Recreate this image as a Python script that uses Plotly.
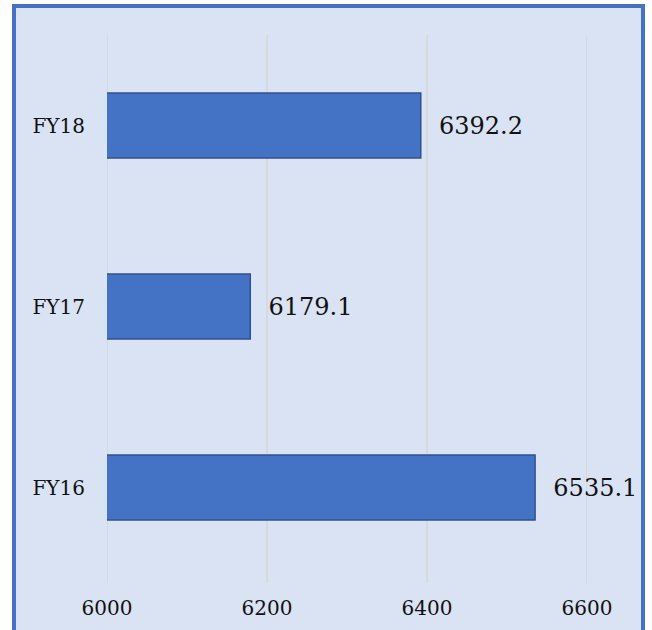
import plotly.graph_objects as go

categories = ["FY16", "FY17", "FY18"]
values = [6535.1, 6179.1, 6392.2]
x_ticks = [6000, 6200, 6400, 6600]

W, H = 652, 630
L, R, T, B = 107, 65, 35, 52
pw, ph = W - L - R, H - T - B

def px(x):
    return (x - L) / pw

def py(y):
    return (H - B - y) / ph

FONT = "DejaVu Serif"

fig = go.Figure(go.Bar(
    y=categories, x=values, orientation="h",
    marker=dict(color="#4472c4", line=dict(color="#2f528f", width=1.5)),
    text=[f"{v:.1f}" for v in values],
    texttemplate="  %{text}",
    textposition="outside",
    textfont=dict(family=FONT, size=24, color="#111111"),
    constraintext="none",
    cliponaxis=False,
    width=0.36,
))

grid_shapes = [dict(
    type="line", xref="x", yref="paper", layer="below",
    x0=t, x1=t, y0=py(583), y1=1,
    line=dict(color="#d6d6d6", width=1.5),
) for t in x_ticks]

fig.update_layout(
    width=W, height=H,
    margin=dict(l=L, r=R, t=T, b=B, autoexpand=False),
    paper_bgcolor="white",
    plot_bgcolor="rgba(0,0,0,0)",
    showlegend=False,
    font=dict(family=FONT, color="#111111"),
    xaxis=dict(
        range=[6000, 6600], tickvals=x_ticks, ticktext=[str(t) for t in x_ticks],
        showgrid=False, zeroline=False, automargin=False,
        showline=False, ticks="outside", ticklen=12, tickcolor="rgba(0,0,0,0)",
        tickfont=dict(family=FONT, size=20, color="#111111"),
    ),
    yaxis=dict(
        categoryorder="array", categoryarray=categories, range=[-0.5, 2.5],
        showgrid=False, zeroline=False, showline=False, automargin=False,
        ticks="outside", ticklen=17, tickcolor="rgba(0,0,0,0)",
        tickfont=dict(family=FONT, size=20, color="#111111"),
    ),
    shapes=[dict(
        type="rect", xref="paper", yref="paper", layer="below",
        x0=px(14), x1=px(643), y0=py(6), y1=py(645),
        fillcolor="#dae3f3", line=dict(color="#4472c4", width=4),
    )] + grid_shapes,
)

fig.write_html(
    "out.html",
    config={"displayModeBar": False},
    post_script="document.body.style.margin='0';document.body.style.overflow='hidden';",
)
